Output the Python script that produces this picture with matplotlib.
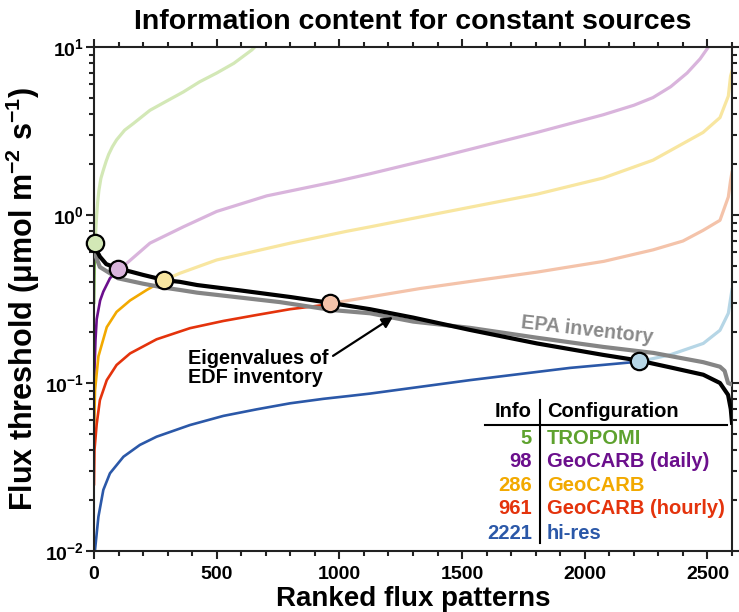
import numpy as np
import matplotlib
matplotlib.use("Agg")
import matplotlib.pyplot as plt
from matplotlib.ticker import MultipleLocator, LogLocator, FuncFormatter, NullFormatter

plt.rcParams['font.family'] = ['Liberation Sans', 'DejaVu Sans']
plt.rcParams['font.weight'] = 'bold'
plt.rcParams['mathtext.fontset'] = 'custom'
plt.rcParams['mathtext.rm'] = 'Liberation Sans:bold'
plt.rcParams['mathtext.bf'] = 'Liberation Sans:bold'

# eigenvalue spectra of the two inventories
edfRank = [0, 4, 12, 24, 50, 98, 150, 200, 286, 350, 420, 600, 800, 961, 1125, 1301, 1532, 1805, 2075, 2221, 2347, 2483, 2551, 2584, 2595, 2600]
edfVal = [0.71, 0.69, 0.61, 0.565, 0.51, 0.48, 0.46, 0.44, 0.41, 0.40, 0.383, 0.355, 0.325, 0.30, 0.275, 0.245, 0.207, 0.172, 0.147, 0.136, 0.124, 0.112, 0.100, 0.085, 0.07, 0.058]
epaRank = [0, 5, 24, 98, 200, 283, 350, 420, 600, 758, 968, 1125, 1301, 1532, 1805, 2075, 2280, 2483, 2551, 2570, 2584, 2600]
epaVal = [0.70, 0.58, 0.49, 0.42, 0.39, 0.37, 0.358, 0.345, 0.322, 0.303, 0.272, 0.26, 0.232, 0.213, 0.186, 0.164, 0.151, 0.133, 0.125, 0.118, 0.10, 0.098]

# observing configurations
configNames = ["TROPOMI", "GeoCARB (daily)", "GeoCARB", "GeoCARB (hourly)", "hi-res"]
infoContent = [5, 98, 286, 961, 2221]
darkColors = ["#5ea22e", "#6b0f8c", "#f2a900", "#e4330c", "#2b58a8"]
lightColors = ["#d3e8b6", "#d9b4dc", "#f8e6a0", "#f4c3aa", "#b6d6e6"]

tropomiRank = [0, 2, 5, 8, 11, 15, 20, 28, 38, 50, 60, 75, 92, 125, 160, 228, 300, 364, 430, 500, 570, 643, 670]
tropomiVal = [0.30, 0.50, 0.69, 0.85, 1.0, 1.2, 1.4, 1.65, 1.85, 2.1, 2.3, 2.55, 2.8, 3.2, 3.5, 4.2, 4.8, 5.4, 6.2, 7.0, 8.0, 9.6, 10.5]
dailyRank = [0, 2, 6, 11, 25, 38, 65, 98, 133, 228, 364, 500, 704, 975, 1125, 1400, 1805, 2075, 2200, 2278, 2350, 2417, 2470, 2510]
dailyVal = [0.06, 0.12, 0.18, 0.24, 0.31, 0.35, 0.42, 0.475, 0.515, 0.68, 0.85, 1.05, 1.30, 1.57, 1.76, 2.2, 3.1, 3.95, 4.5, 5.0, 5.8, 7.0, 8.5, 10.3]
geocarbRank = [0, 4, 18, 52, 92, 147, 215, 286, 350, 500, 800, 1030, 1125, 1400, 1805, 2075, 2278, 2482, 2551, 2585, 2594, 2600]
geocarbVal = [0.05, 0.09, 0.144, 0.215, 0.265, 0.31, 0.358, 0.41, 0.45, 0.54, 0.68, 0.80, 0.85, 1.02, 1.33, 1.66, 2.12, 3.1, 3.8, 5.1, 6.7, 7.2]
hourlyRank = [0, 2, 11, 24, 52, 92, 147, 255, 391, 527, 663, 799, 935, 961, 1329, 1573, 1805, 2078, 2278, 2400, 2482, 2551, 2585, 2594, 2600]
hourlyVal = [0.025, 0.04, 0.057, 0.079, 0.104, 0.128, 0.150, 0.182, 0.212, 0.234, 0.254, 0.275, 0.291, 0.297, 0.365, 0.41, 0.457, 0.53, 0.62, 0.70, 0.81, 0.93, 1.28, 1.6, 1.8]
hiresRank = [0, 4, 18, 38, 65, 120, 187, 255, 391, 527, 663, 799, 935, 1043, 1125, 1532, 1940, 2221, 2347, 2483, 2551, 2585, 2600]
hiresVal = [0.0098, 0.0101, 0.016, 0.0231, 0.029, 0.0364, 0.0428, 0.0479, 0.0562, 0.0637, 0.0697, 0.0757, 0.0805, 0.0838, 0.0865, 0.104, 0.123, 0.134, 0.147, 0.172, 0.206, 0.26, 0.36]

curveRanks = [tropomiRank, dailyRank, geocarbRank, hourlyRank, hiresRank]
curveVals = [tropomiVal, dailyVal, geocarbVal, hourlyVal, hiresVal]


def splitAtInfo(ranks, vals, info):
	ranks = np.asarray(ranks, dtype=float)
	vals = np.asarray(vals, dtype=float)
	crossVal = 10**np.interp(info, ranks, np.log10(vals))
	below = ranks < info
	above = ranks > info
	darkX = np.append(ranks[below], info)
	darkY = np.append(vals[below], crossVal)
	lightX = np.insert(ranks[above], 0, info)
	lightY = np.insert(vals[above], 0, crossVal)
	return darkX, darkY, lightX, lightY


fig = plt.figure(figsize=(7.39, 6.12), dpi=100)
ax = fig.add_axes([94/739, 61/612, 638/739, 504/612])
ax.set_yscale('log')

for i in range(len(configNames)):
	dX, dY, lX, lY = splitAtInfo(curveRanks[i], curveVals[i], infoContent[i])
	ax.plot(lX, lY, color=lightColors[i], lw=2.3, zorder=2, solid_joinstyle='round')
	ax.plot(dX, dY, color=darkColors[i], lw=1.9, zorder=2, solid_joinstyle='round')

ax.plot(epaRank, epaVal, color='#858585', lw=3.0, zorder=3, solid_joinstyle='round')
ax.plot(edfRank, edfVal, color='black', lw=3.0, zorder=4, solid_joinstyle='round')

# circles where each configuration meets the EDF spectrum
markY = 10**np.interp(infoContent, edfRank, np.log10(edfVal))
for i in range(len(configNames)):
	ax.plot(infoContent[i], markY[i], 'o', ms=12.5, mfc=lightColors[i], mec='black', mew=1.6, zorder=6, clip_on=False)

ax.text(383, 0.122, "Eigenvalues of\nEDF inventory", fontsize=14.3, fontweight='bold', ha='left', va='center', linespacing=1.0, zorder=7)
ax.annotate('', xy=(1218, 0.247), xytext=(974, 0.145),
	arrowprops=dict(arrowstyle='-|>', color='black', lw=1.6, mutation_scale=16, shrinkA=0, shrinkB=0), zorder=7)
ax.text(2009, 0.206, "EPA inventory", fontsize=14.2, fontweight='bold', color='#8a8a8a', rotation=-6.5, ha='center', va='center', rotation_mode='anchor')

# info table
tf = ax.transAxes
ax.text(0.6865, 0.2758, "Info", transform=tf, ha='right', va='center', fontsize=14.5, fontweight='bold')
ax.text(0.710, 0.2758, "Configuration", transform=tf, ha='left', va='center', fontsize=14.5, fontweight='bold')
ax.plot([0.613, 0.992], [0.25, 0.25], transform=tf, color='black', lw=1.5, clip_on=False, zorder=7)
ax.plot([0.699, 0.699], [0.2996, 0.0159], transform=tf, color='black', lw=1.5, clip_on=False, zorder=7)
rowY = [0.2242, 0.1766, 0.129, 0.0853, 0.0357]
for i in range(len(configNames)):
	ax.text(0.6865, rowY[i], str(infoContent[i]), transform=tf, ha='right', va='center', fontsize=14.5, fontweight='bold', color=darkColors[i])
	ax.text(0.710, rowY[i], configNames[i], transform=tf, ha='left', va='center', fontsize=14.5, fontweight='bold', color=darkColors[i])

ax.set_xlim(0, 2600)
ax.set_ylim(1e-2, 1e1)
ax.xaxis.set_major_locator(MultipleLocator(500))
ax.xaxis.set_minor_locator(MultipleLocator(100))
ax.yaxis.set_major_locator(LogLocator(base=10))
ax.yaxis.set_minor_locator(LogLocator(base=10, subs=np.arange(2, 10)))
ax.yaxis.set_minor_formatter(NullFormatter())
ax.yaxis.set_major_formatter(FuncFormatter(lambda v, p: r'$\mathbf{10^{%d}}$' % int(round(np.log10(v)))))

ax.tick_params(which='both', direction='out', top=True, right=True, width=1.5, color='#222222', labelsize=14)
ax.tick_params(which='major', length=6)
ax.tick_params(which='minor', length=3.5)
ax.tick_params(axis='x', pad=5)
ax.tick_params(axis='y', pad=1)
for sp in ax.spines.values():
	sp.set_linewidth(1.5)
	sp.set_color('#222222')

ax.set_xlabel("Ranked flux patterns", fontsize=20, fontweight='bold')
ax.xaxis.set_label_coords(0.5, -0.07)
ax.set_ylabel("Flux threshold (μmol m$^{-2}$ s$^{-1}$)", fontsize=22, fontweight='bold')
ax.yaxis.set_label_coords(-0.082, 0.5)
ax.set_title("Information content for constant sources", fontsize=20.5, fontweight='bold', pad=13)

fig.savefig("out.png", dpi=100)
